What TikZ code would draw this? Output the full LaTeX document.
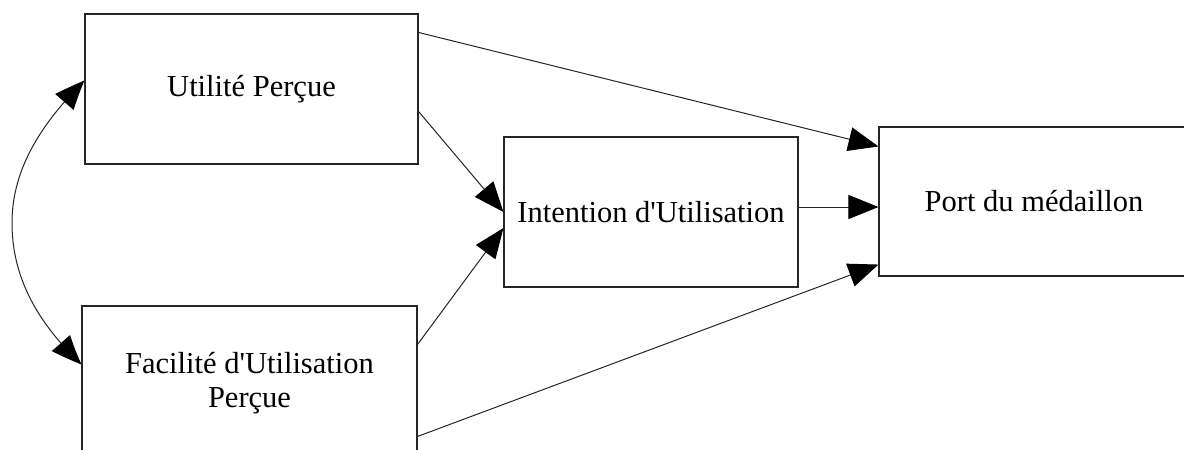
\documentclass[tikz,border=0pt]{standalone}
\usepackage{fontspec}
\setmainfont{Liberation Serif}
\usetikzlibrary{arrows.meta,calc,bending}
\begin{document}
\begin{tikzpicture}[x=1pt,y=-1pt,
  boxnode/.style={draw=black!85,line width=1.1pt,rectangle,inner sep=0pt,align=center,
    font=\fontsize{30.5}{34}\selectfont},
  conn/.style={draw=black!85,line width=1pt,-{Triangle[length=30pt,width=24pt,color=black]}},
  dconn/.style={draw=black!85,line width=1pt,{Triangle[length=30pt,width=24pt,bend,color=black]}-{Triangle[length=30pt,width=24pt,bend,color=black]}}]
\useasboundingbox (0,0) rectangle (1184,450);
\fill[white] (0,0) rectangle (1184,450);
\node[boxnode,minimum width=333pt,minimum height=150pt] (up) at (251.5,89) {Utilité Perçue};
\node[boxnode,minimum width=335pt,minimum height=154pt] (fup) at (249.5,383) {Facilité d\textquotesingle Utilisation\\Perçue};
\node[boxnode,minimum width=294pt,minimum height=150pt] (int) at (651,212) {Intention d\textquotesingle Utilisation};
\node[boxnode,minimum width=310pt,minimum height=149pt] (port) at (1034,201.5) {Port du médaillon};
\draw[conn] ([yshift=-19pt]up.north east) -- ([yshift=-20pt]port.north west);
\draw[conn] ([yshift=-98pt]up.north east) -- (int.west);
\draw[conn] ([yshift=-39pt]fup.north east) -- ([yshift=-16pt]int.west);
\draw[conn] ([yshift=5pt]int.east) -- ([yshift=-5.5pt]port.west);
\draw[conn] ([yshift=-131pt]fup.north east) -- ([yshift=12pt]port.south west);
\coordinate (mid) at (12,223);
\draw[dconn] ([yshift=-67pt]up.north west) .. controls (40,125) and (12,170) .. (mid)
  .. controls (12,280) and (40,325) .. ([yshift=-59pt]fup.north west);
\end{tikzpicture}
\end{document}
